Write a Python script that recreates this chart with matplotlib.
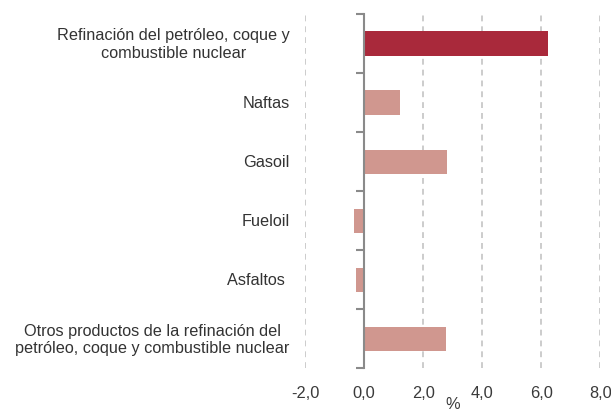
import matplotlib
matplotlib.use("Agg")
import matplotlib.pyplot as plt
from matplotlib.transforms import blended_transform_factory

categories = [
    "Refinación del petróleo, coque y\ncombustible nuclear",
    "Naftas",
    "Gasoil",
    "Fueloil",
    "Asfaltos ",
    "Otros productos de la refinación del\npetróleo, coque y combustible nuclear",
]
values = [6.22, 1.23, 2.8, -0.34, -0.28, 2.76]
bar_colors = ["#A9293B", "#D0978F", "#D0978F", "#D0978F", "#D0978F", "#D0978F"]
xticks = [-2, 0, 2, 4, 6, 8]
xtick_labels = ["-2,0", "0,0", "2,0", "4,0", "6,0", "8,0"]

plt.rcParams['font.family'] = ['Liberation Sans', 'DejaVu Sans']

fig = plt.figure(figsize=(6.11, 4.14), dpi=100)
W, H = 611, 414
ax = fig.add_axes([305 / W, 1 - 369.3 / H, (600.3 - 305) / W, (369.3 - 15) / H])

n = len(categories)
ypos = list(range(n))
ax.barh(ypos, values, height=0.41, color=bar_colors, zorder=3)
ax.set_ylim(n - 0.5, -0.5)
ax.set_xlim(-2, 8)

for s in ['top', 'right', 'bottom']:
    ax.spines[s].set_visible(False)
ax.spines['left'].set_position(('data', 0))
ax.spines['left'].set_color('#8a8a8a')
ax.spines['left'].set_linewidth(1.5)
ax.spines['left'].set_zorder(4)

ax.set_yticks([i - 0.5 for i in range(n + 1)])
ax.set_yticklabels([])
ax.tick_params(axis='y', length=6, width=1.5, color='#8a8a8a', direction='out')

ax.set_xticks(xticks)
ax.set_xticklabels(xtick_labels, fontsize=11.8, color='#3a3a3a')
ax.tick_params(axis='x', length=0, pad=12)
ax.grid(axis='x', linestyle=(0, (3.5, 3)), color='#c4c4c4', linewidth=1.2, zorder=0)
ax.set_axisbelow(True)

trans = blended_transform_factory(ax.transAxes, ax.transData)
for i, lab in enumerate(categories):
    ax.annotate(lab, xy=(0, i), xycoords=trans, xytext=(-11, 0), textcoords='offset points',
                ha='right', va='center', multialignment='center', fontsize=11.7, color='#333333',
                linespacing=1.2)

ax.set_xlabel('%', fontsize=11.8, color='#3a3a3a', labelpad=-2.5)

fig.savefig('out.png', dpi=100)
